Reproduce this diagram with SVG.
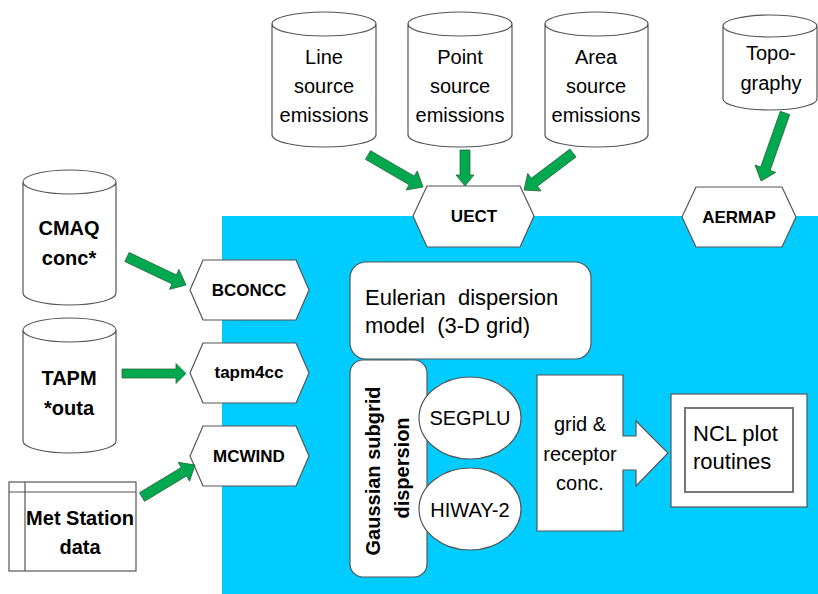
<svg xmlns="http://www.w3.org/2000/svg" width="818" height="594" viewBox="0 0 818 594">
<defs>
<style>
.shape{fill:#fff;stroke:#555;stroke-width:1.2}
.cyl{fill:#fff;stroke:#555;stroke-width:1.2}
.arr{fill:#00a84f;stroke:#2b6b3c;stroke-width:0.8}
.t{font-family:"Liberation Sans",Arial,sans-serif;font-size:20px;fill:#000}
.b{font-family:"Liberation Sans",Arial,sans-serif;font-size:17px;font-weight:bold;fill:#000}
.bb{font-family:"Liberation Sans",Arial,sans-serif;font-size:20px;font-weight:bold;fill:#000}
.m{text-anchor:middle}
</style>
</defs>
<rect x="222" y="216" width="596" height="378" fill="#00ccff"/>

<g id="line-src">
<path class="cyl" d="M272,24 L272,135 A52,12 0 0 0 376,135 L376,24 A52,12 0 0 0 272,24 Z M272,24 A52,12 0 0 0 376,24"/>
<text class="t m" x="324" y="64">Line</text>
<text class="t m" x="324" y="93">source</text>
<text class="t m" x="324" y="122">emissions</text>
</g>
<g id="point-src">
<path class="cyl" d="M408,24 L408,135 A52,12 0 0 0 512,135 L512,24 A52,12 0 0 0 408,24 Z M408,24 A52,12 0 0 0 512,24"/>
<text class="t m" x="460" y="64">Point</text>
<text class="t m" x="460" y="93">source</text>
<text class="t m" x="460" y="122">emissions</text>
</g>
<g id="area-src">
<path class="cyl" d="M545,24 L545,135 A51.5,12 0 0 0 648,135 L648,24 A51.5,12 0 0 0 545,24 Z M545,24 A51.5,12 0 0 0 648,24"/>
<text class="t m" x="596" y="64">Area</text>
<text class="t m" x="596" y="93">source</text>
<text class="t m" x="596" y="122">emissions</text>
</g>
<g id="topo">
<path class="cyl" d="M723,26 L723,99 A47,11 0 0 0 817,99 L817,26 A47,11 0 0 0 723,26 Z M723,26 A47,11 0 0 0 817,26"/>
<text class="t m" x="771" y="60">Topo-</text>
<text class="t m" x="771" y="90">graphy</text>
</g>
<g id="cmaq">
<path class="cyl" d="M23,182 L23,293 A46.5,12 0 0 0 116,293 L116,182 A46.5,12 0 0 0 23,182 Z M23,182 A46.5,12 0 0 0 116,182"/>
<text class="bb m" x="69" y="235">CMAQ</text>
<text class="bb m" x="69" y="265">conc*</text>
</g>
<g id="tapm">
<path class="cyl" d="M23,330 L23,441 A46.5,12 0 0 0 116,441 L116,330 A46.5,12 0 0 0 23,330 Z M23,330 A46.5,12 0 0 0 116,330"/>
<text class="bb m" x="69" y="385">TAPM</text>
<text class="bb m" x="69" y="415">*outa</text>
</g>
<g id="met">
<rect class="shape" x="9" y="482" width="127" height="89"/>
<path d="M9,492 H136 M25,482 V571" stroke="#555" stroke-width="1.2" fill="none"/>
<text class="bb m" x="80" y="525">Met Station</text>
<text class="bb m" x="80" y="554">data</text>
</g>

<g id="uect">
<polygon class="shape" points="413,216 427,186 520,186 534,216 520,247 427,247"/>
<text class="b m" x="474" y="222">UECT</text>
</g>
<g id="aermap">
<polygon class="shape" points="682,217 696,187 782,187 796,217 782,247 696,247"/>
<text class="b m" x="739" y="223">AERMAP</text>
</g>
<g id="bconcc">
<polygon class="shape" points="190,290 203,260 296,260 309,290 296,320 203,320"/>
<text class="b m" x="249" y="296">BCONCC</text>
</g>
<g id="tapm4cc">
<polygon class="shape" points="190,373 203,343 296,343 309,373 296,403 203,403"/>
<text class="b m" x="249" y="378">tapm4cc</text>
</g>
<g id="mcwind">
<polygon class="shape" points="190,456 203,426 296,426 309,456 296,486 203,486"/>
<text class="b m" x="249" y="462">MCWIND</text>
</g>

<g id="eulerian">
<rect class="shape" x="350" y="262" width="241" height="97" rx="16"/>
<text class="t" x="365" y="305" style="font-size:22px;white-space:pre">Eulerian  dispersion</text>
<text class="t" x="365" y="333" style="font-size:22px;white-space:pre">model  (3-D grid)</text>
</g>
<g id="gaussian">
<rect class="shape" x="350" y="360" width="77" height="217" rx="13"/>
<text class="bb m" transform="translate(380,471) rotate(-90)">Gaussian subgrid</text>
<text class="bb m" transform="translate(409,468) rotate(-90)">dispersion</text>
</g>
<g id="segplu">
<ellipse class="shape" cx="470" cy="418" rx="51" ry="41"/>
<text class="t m" x="470" y="425">SEGPLU</text>
</g>
<g id="hiway">
<ellipse class="shape" cx="470" cy="509" rx="51" ry="41"/>
<text class="t m" x="470" y="517">HIWAY-2</text>
</g>
<g id="grid-conc">
<path class="shape" d="M537,375 H623 V436 H636 V421 L668,453 L636,486 V470 H623 V531 H537 Z"/>
<text class="t m" x="580" y="431">grid &amp;</text>
<text class="t m" x="580" y="461">receptor</text>
<text class="t m" x="580" y="490">conc.</text>
</g>
<g id="ncl">
<rect class="shape" x="671" y="394" width="136" height="113"/>
<rect x="685" y="408" width="108" height="84" fill="#fff" stroke="#777" stroke-width="2"/>
<text class="t" x="693" y="441" style="font-size:22px">NCL plot</text>
<text class="t" x="693" y="469" style="font-size:22px">routines</text>
</g>

<g id="connectors">
<polygon class="arr" transform="translate(368,155) rotate(30.2)" points="0,-5 50.6,-5 50.6,-11 63.6,0 50.6,11 50.6,5 0,5"/>
<polygon class="arr" transform="translate(465,150) rotate(90)" points="0,-5 25,-5 25,-9 36,0 25,9 25,5 0,5"/>
<polygon class="arr" transform="translate(573,153) rotate(142.9)" points="0,-5 48.4,-5 48.4,-11 61.4,0 48.4,11 48.4,5 0,5"/>
<polygon class="arr" transform="translate(785,113) rotate(109.4)" points="0,-5 59.1,-5 59.1,-11 72.1,0 59.1,11 59.1,5 0,5"/>
<polygon class="arr" transform="translate(127,257) rotate(25.4)" points="0,-5 52.3,-5 52.3,-11 65.3,0 52.3,11 52.3,5 0,5"/>
<polygon class="arr" transform="translate(122,373.5) rotate(0)" points="0,-4.5 54,-4.5 54,-10 64,0 54,10 54,4.5 0,4.5"/>
<polygon class="arr" transform="translate(142,497) rotate(-31.1)" points="0,-5 48.9,-5 48.9,-11 61.9,0 48.9,11 48.9,5 0,5"/>
</g>
</svg>
